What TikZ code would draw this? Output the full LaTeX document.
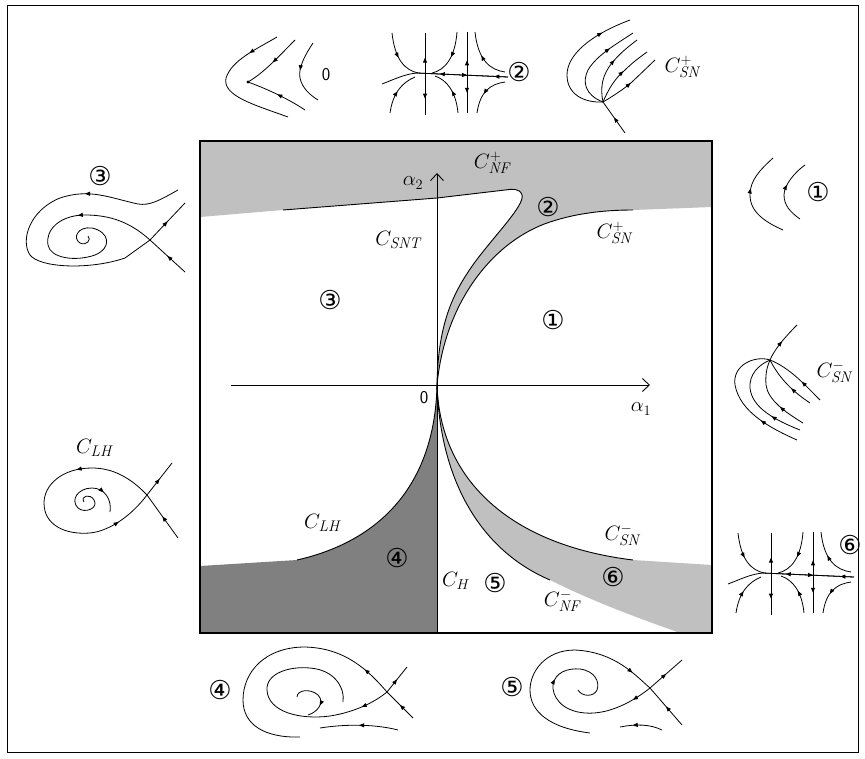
\documentclass[tikz,border=0pt]{standalone}
\usepackage{fontspec}
\newfontfamily\dejavu{DejaVu Sans}
\usetikzlibrary{decorations.markings,arrows.meta}
\definecolor{lgray}{HTML}{C0C0C0}
\definecolor{dgray}{HTML}{808080}
\tikzset{
  bnd/.style={line width=0.9pt},
  traj/.style={line width=0.8pt},
  axisln/.style={line width=0.9pt,-{Straight Barb[length=7pt,width=13pt]}},
  marr/.style={postaction={decorate,decoration={markings,mark=at position #1 with {\arrow{Triangle[length=5pt,width=4pt]}}}}},
  rarr/.style={postaction={decorate,decoration={markings,mark=at position #1 with {\arrowreversed{Triangle[length=5pt,width=4pt]}}}}},
  lbl/.style={inner sep=0pt,font=\fontsize{22}{22}\selectfont},
  zlbl/.style={inner sep=0pt,font=\sffamily\fontsize{18}{18}\selectfont},
  cnum/.style={inner sep=0pt,font=\dejavu\fontsize{26}{26}\selectfont},
}
\newcommand{\sadnode}{%
  \draw[traj] (382,84) .. controls (395,79) and (405,74) .. (417,73) -- (508,77);
  \draw[traj,rarr=0.25,marr=0.55,rarr=0.85] (417,73) -- (508,77);
  \draw[traj,rarr=0.3,marr=0.8] (425,33) -- (425,115);
  \draw[traj,rarr=0.35,marr=0.75] (467,32) -- (467,113);
  \draw[traj,marr=0.5] (392,33) .. controls (395,60) and (405,70) .. (418,73);
  \draw[traj,marr=0.5] (457,32) .. controls (455,58) and (445,70) .. (432,73);
  \draw[traj,rarr=0.45] (475,32) .. controls (478,60) and (490,70) .. (505,72);
  \draw[traj,marr=0.5] (390,113) .. controls (393,92) and (403,82) .. (415,77);
  \draw[traj,marr=0.5] (458,113) .. controls (456,92) and (447,80) .. (435,76);
  \draw[traj,rarr=0.45] (477,113) .. controls (480,92) and (490,84) .. (505,82);
}
\begin{document}
\begin{tikzpicture}[x=1pt,y=-1pt]
\useasboundingbox (0,0) rectangle (865,758);
\fill[white] (0,0) rectangle (865,758);
\draw[line width=1pt] (7,5) rectangle (858,752);

% ---------- regions ----------
\fill[lgray] (200,141) -- (712,141) -- (712,207) -- (633,210)
  .. controls (610,210) and (580,212) .. (550,222)
  .. controls (495,240) and (445,300) .. (437,385)
  .. controls (438,320) and (455,290) .. (475,262)
  .. controls (495,235) and (525,205) .. (522,195)
  .. controls (520,188) and (512,189) .. (505,190)
  -- (437,198) -- (283,210) -- (200,217) -- cycle;
\fill[dgray] (200,566) -- (297,560)
  .. controls (385,540) and (435,480) .. (437,385)
  -- (437,633) -- (200,633) -- cycle;
\fill[lgray] (437,385) .. controls (440,480) and (510,545) .. (633,560)
  -- (712,565) -- (712,633) -- (680,633)
  .. controls (650,622) and (600,605) .. (550,580)
  .. controls (480,550) and (440,480) .. (437,385) -- cycle;

% ---------- bifurcation curves ----------
\draw[bnd] (283,210) -- (437,198) -- (505,190)
  .. controls (512,189) and (520,188) .. (522,195)
  .. controls (525,205) and (495,235) .. (475,262)
  .. controls (455,290) and (438,320) .. (437,385);
\draw[bnd] (437,385) .. controls (445,300) and (495,240) .. (550,222)
  .. controls (580,212) and (610,210) .. (633,210);
\draw[bnd] (437,385) .. controls (435,480) and (385,540) .. (297,560);
\draw[bnd] (437,385) .. controls (440,480) and (510,545) .. (633,560);
\draw[bnd] (437,385) .. controls (440,480) and (480,550) .. (550,580);

% ---------- axes and box ----------
\draw[axisln] (231,385) -- (650,385);
\draw[axisln] (437,633) -- (437,173);
\draw[line width=1.3pt] (200,141) rectangle (712,633);

% ---------- labels inside ----------
\node[lbl] (a2) at (413,183) {$\alpha_2$};
\node[lbl] (a1) at (641,409) {$\alpha_1$};
\node[zlbl] (zero) at (424,398) {0};
\node[lbl] (cnfp) at (492,163) {$C^{+}_{\mathit{NF}}$};
\node[lbl] (csnt) at (398,240) {$C_{\mathit{SNT}}$};
\node[lbl] (csnp) at (614,233) {$C^{+}_{\mathit{SN}}$};
\node[lbl] (clh) at (322,523) {$C_{\mathit{LH}}$};
\node[lbl] (ch) at (456,581) {$C_{H}$};
\node[lbl] (csnm) at (622,535) {$C^{-}_{\mathit{SN}}$};
\node[lbl] (cnfm) at (562,601) {$C^{-}_{\mathit{NF}}$};
\node[cnum] (r2) at (548,207) {②};
\node[cnum] (r3) at (330,300) {③};
\node[cnum] (r1) at (553,320) {①};
\node[cnum] (r4) at (397,558) {④};
\node[cnum] (r5) at (495,583) {⑤};
\node[cnum] (r6) at (613,577) {⑥};

% ---------- outer labels ----------
\node[zlbl] (p0) at (326,75) {0};
\node[cnum] (p2) at (519,72) {②};
\node[lbl] (psnp) at (682,67) {$C^{+}_{\mathit{SN}}$};
\node[cnum] (p3) at (100,176) {③};
\node[lbl] (plh) at (94,448) {$C_{\mathit{LH}}$};
\node[cnum] (p1) at (818,192) {①};
\node[lbl] (psnm) at (834,372) {$C^{-}_{\mathit{SN}}$};
\node[cnum] (p6) at (850,545) {⑥};
\node[cnum] (p4) at (220,690) {④};
\node[cnum] (p5) at (512,687) {⑤};

% ---------- portrait "0" ----------
\draw[traj,marr=0.22] (277,37) .. controls (255,50) and (232,60) .. (226,78)
  .. controls (222,96) and (255,105) .. (288,117);
\draw[traj,marr=0.5] (295,40) .. controls (280,55) and (265,72) .. (248,82);
\draw[traj,rarr=0.5] (248,82) .. controls (270,90) and (290,100) .. (305,110);
\fill (248,82) circle (1.6);
\draw[traj,marr=0.45] (313,43) .. controls (305,55) and (298,68) .. (300,78)
  .. controls (302,88) and (310,95) .. (318,100);

% ---------- portrait 2 and 6 ----------
\sadnode
\begin{scope}[shift={(346,500)}]
\sadnode
\end{scope}

% ---------- portrait C_SN+ ----------
\draw[traj,marr=0.5] (625,133) -- (603,102);
\draw[traj,marr=0.78] (603,102) .. controls (585,103) and (567,95) .. (567,75)
  .. controls (567,55) and (590,35) .. (630,20);
\draw[traj,marr=0.72] (603,102) .. controls (585,95) and (582,82) .. (588,70)
  .. controls (597,55) and (615,45) .. (633,33);
\draw[traj,marr=0.6] (603,102) .. controls (600,88) and (602,75) .. (612,63)
  .. controls (620,53) and (628,47) .. (637,40);
\draw[traj,marr=0.55] (603,102) .. controls (608,90) and (615,78) .. (625,70)
  .. controls (632,63) and (640,57) .. (647,52);
\draw[traj,marr=0.5] (603,102) .. controls (615,95) and (625,88) .. (632,82) -- (655,60);

% ---------- portrait 1 ----------
\draw[traj,marr=0.6] (783,230) .. controls (765,222) and (750,212) .. (750,195)
  .. controls (750,180) and (760,170) .. (773,158);
\draw[traj,marr=0.6] (800,219) .. controls (790,212) and (784,205) .. (784,195)
  .. controls (784,185) and (795,172) .. (805,165);

% ---------- portrait C_SN- ----------
\draw[traj,marr=0.5] (770,360) .. controls (774,350) and (785,337) .. (797,325);
\draw[traj,marr=0.3] (797,440) .. controls (770,428) and (740,412) .. (735,385)
  .. controls (732,365) and (755,355) .. (770,360);
\draw[traj,marr=0.3] (800,430) .. controls (775,420) and (752,408) .. (750,388)
  .. controls (749,375) and (758,365) .. (770,360);
\draw[traj,marr=0.35] (803,423) .. controls (785,412) and (768,400) .. (766,385)
  .. controls (765,372) and (768,365) .. (770,360);
\draw[traj,marr=0.4] (810,403) .. controls (795,393) and (780,380) .. (770,360);
\draw[traj,marr=0.4] (820,400) .. controls (805,385) and (790,368) .. (770,360);

% ---------- portrait 3 ----------
\draw[traj,marr=0.5] (150,240) -- (185,203);
\draw[traj,marr=0.5] (185,272) -- (150,240);
\draw[traj,marr=0.3] (178,190) .. controls (160,200) and (150,206) .. (138,204)
  .. controls (110,198) and (90,188) .. (60,198)
  .. controls (30,210) and (20,240) .. (30,255)
  .. controls (40,268) and (90,270) .. (125,258) -- (150,240);
\draw[traj,marr=0.3] (150,240) .. controls (130,222) and (110,215) .. (85,215)
  .. controls (60,215) and (45,230) .. (48,245)
  .. controls (50,258) and (75,262) .. (95,255)
  .. controls (112,248) and (110,232) .. (92,228)
  .. controls (78,226) and (72,238) .. (80,243)
  .. controls (86,246) and (92,240) .. (88,236);

% ---------- portrait C_LH ----------
\draw[traj,marr=0.5] (147,495) -- (172,463);
\draw[traj,marr=0.5] (178,538) -- (147,495);
\draw[traj,marr=0.3,marr=0.85] (147,495) .. controls (130,477) and (112,468) .. (92,468)
  .. controls (62,468) and (44,485) .. (44,503)
  .. controls (44,525) and (65,535) .. (90,533)
  .. controls (110,531) and (132,515) .. (147,495);
\draw[traj,marr=0.8] (84,502) .. controls (80,496) and (90,493) .. (94,500)
  .. controls (99,508) and (85,514) .. (78,508)
  .. controls (70,500) and (78,488) .. (92,488)
  .. controls (105,488) and (112,500) .. (110,512);

% ---------- portrait 4 ----------
\draw[traj,marr=0.5] (387,692) -- (407,667);
\draw[traj,marr=0.5] (413,718) -- (387,692);
\draw[traj,marr=0.12] (387,692) .. controls (368,670) and (345,648) .. (305,647)
  .. controls (265,647) and (243,672) .. (243,700)
  .. controls (243,725) and (265,738) .. (300,737);
\draw[traj,marr=0.12] (387,692) .. controls (375,702) and (355,712) .. (330,716)
  .. controls (300,720) and (268,712) .. (267,690)
  .. controls (266,673) and (290,666) .. (310,668)
  .. controls (335,670) and (345,688) .. (343,702);
\draw[traj,marr=0.7] (297,697) .. controls (297,690) and (310,688) .. (318,695)
  .. controls (325,702) and (318,712) .. (308,715);
\draw[traj,rarr=0.5] (320,728) .. controls (345,724) and (375,724) .. (398,730);

% ---------- portrait 5 ----------
\draw[traj,marr=0.5] (650,688) -- (682,660);
\draw[traj,marr=0.5] (682,725) -- (650,688);
\draw[traj,rarr=0.1] (650,688) .. controls (635,675) and (615,652) .. (575,650)
  .. controls (545,650) and (530,672) .. (530,690)
  .. controls (530,712) and (550,728) .. (590,733);
\draw[traj,marr=0.1,marr=0.6] (650,688) .. controls (635,700) and (610,715) .. (585,713)
  .. controls (560,711) and (552,695) .. (553,685)
  .. controls (555,672) and (568,668) .. (580,669)
  .. controls (595,671) and (600,682) .. (597,690)
  .. controls (594,697) and (582,697) .. (578,690);
\draw[traj,rarr=0.3] (620,727) .. controls (635,724) and (650,724) .. (662,730);
\end{tikzpicture}
\end{document}
